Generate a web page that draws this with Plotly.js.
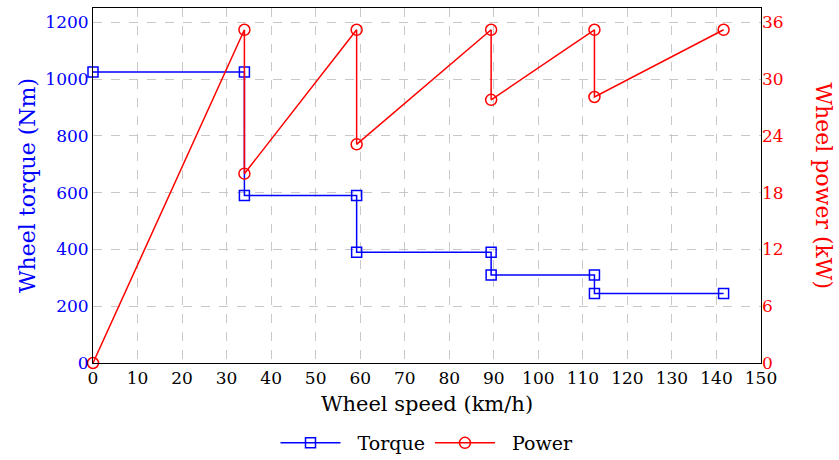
<!DOCTYPE html>
<html>
<head>
<meta charset="utf-8">
<script src="https://cdn.plot.ly/plotly-3.0.1.min.js"></script>
<style>html,body{margin:0;padding:0;background:#fff;}#chart{width:839px;height:460px;}</style>
</head>
<body>
<div id="chart"></div>
<script>
// Data
const torqueSpeed = [0, 34.0, 34.0, 59.2, 59.2, 89.4, 89.4, 112.6, 112.6, 141.6];
const torqueValues = [1025, 1025, 590, 590, 390, 390, 310, 310, 245, 245];
const powerSpeed = [0, 34.0, 34.0, 59.2, 59.2, 89.4, 89.4, 112.6, 112.6, 141.6];
const powerValues = [0, 35.2, 20.0, 35.2, 23.1, 35.2, 27.8, 35.2, 28.1, 35.2];
const xTicks = [0,10,20,30,40,50,60,70,80,90,100,110,120,130,140,150];
const yTicks = [0,200,400,600,800,1000,1200];
const y2Ticks = [0,6,12,18,24,30,36];
const seriesNames = ['Torque', 'Power'];

const FONT = 'DejaVu Serif';
const BLUE = '#0000ff', RED = '#ff0000';
const PAD = '\u00a0\u00a0';

const traces = [
  {x: torqueSpeed, y: torqueValues, name: PAD + seriesNames[0], type: 'scatter', mode: 'lines+markers',
   line: {color: BLUE, width: 1.5},
   marker: {symbol: 'square-open', size: 10, color: BLUE, line: {width: 1.5, color: BLUE}},
   cliponaxis: false, yaxis: 'y'},
  {x: powerSpeed, y: powerValues, name: PAD + seriesNames[1], type: 'scatter', mode: 'lines+markers',
   line: {color: RED, width: 1.5},
   marker: {symbol: 'circle-open', size: 11, color: RED, line: {width: 1.5, color: RED}},
   cliponaxis: false, yaxis: 'y2'}
];

const layout = {
  width: 839, height: 460,
  margin: {l: 93, r: 78, t: 8, b: 97, autoexpand: false},
  paper_bgcolor: '#fff', plot_bgcolor: '#fff',
  font: {family: FONT, size: 17, color: '#000'},
  showlegend: true,
  legend: {orientation: 'h', x: 0.5, xanchor: 'center', yref: 'container', y: 0.037, yanchor: 'middle',
           font: {family: FONT, size: 19, color: '#000'}, itemwidth: 60, tracegroupgap: 0},
  xaxis: {range: [0, 150], tickvals: xTicks, ticktext: xTicks.map(String),
          showgrid: true, gridcolor: '#c8c8c8', griddash: 'dash', gridwidth: 1,
          zeroline: false, showline: true, linecolor: '#000', linewidth: 1, mirror: true,
          ticks: '', tickfont: {family: FONT, size: 17, color: '#000'},
          title: {text: 'Wheel speed (km/h)', font: {family: FONT, size: 21, color: '#000'}, standoff: 8}},
  yaxis: {range: [0, 1250], tickvals: yTicks, ticktext: yTicks.map(String),
          showgrid: true, gridcolor: '#c8c8c8', griddash: 'dash', gridwidth: 1,
          zeroline: false, showline: true, linecolor: '#000', linewidth: 1, mirror: true,
          ticks: '', tickfont: {family: FONT, size: 17, color: BLUE},
          title: {text: 'Wheel torque (Nm)', font: {family: FONT, size: 22, color: BLUE}, standoff: 3}},
  yaxis2: {range: [0, 37.5], tickvals: y2Ticks, ticktext: y2Ticks.map(String),
           overlaying: 'y', side: 'right', showgrid: false, zeroline: false,
           showline: false, ticks: '', tickfont: {family: FONT, size: 17, color: RED}},
  annotations: [
    {text: 'Wheel power (kW)', xref: 'paper', yref: 'paper', x: 1.093, y: 0.5,
     xanchor: 'center', yanchor: 'middle', textangle: 90, showarrow: false,
     font: {family: FONT, size: 22, color: RED}}
  ]
};

Plotly.newPlot('chart', traces, layout, {displayModeBar: false, staticPlot: true});
</script>
</body>
</html>
